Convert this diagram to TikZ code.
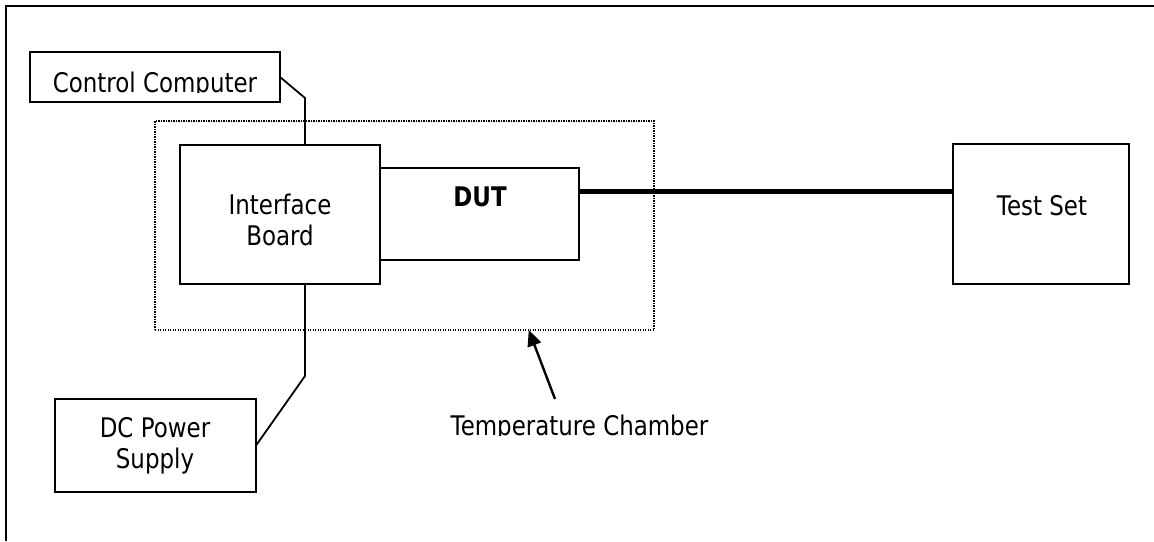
\documentclass[tikz,border=0pt]{standalone}
\usepackage{fontspec}
\setmainfont{DejaVu Sans}[FakeStretch=0.85]
\usetikzlibrary{arrows.meta,calc}
\begin{document}
\begin{tikzpicture}[x=1pt,y=-1pt,
  box/.style={draw, line width=1.8pt, inner sep=0pt, outer sep=0pt},
  txt/.style={font=\fontsize{27}{31}\selectfont, align=center, inner sep=0pt, outer sep=0pt},
  wire/.style={line width=1.8pt},
  thickwire/.style={line width=5pt},
  chamberbox/.style={draw, line width=1.4pt, dash pattern=on 1.2pt off 1.3pt, inner sep=0pt, outer sep=0pt},
  pointer/.style={line width=2.4pt, -{Triangle[length=16pt,width=14pt]}}]
\useasboundingbox (0,0) rectangle (1154,541);
% outer frame (only top and left visible)
\draw[line width=2.6pt] (1154,6) -- (6,6) -- (6,541);
% temperature chamber
\node[chamberbox, minimum width=499pt, minimum height=209pt] (chamber) at (404.5,225.5) {};
% boxes
\node[box, minimum width=250pt, minimum height=50pt] (cc) at (155,77) {};
\node[box, minimum width=200pt, minimum height=139pt] (ib) at (280,214.5) {};
\node[box, minimum width=199pt, minimum height=92pt] (dut) at (479.5,214) {};
\node[box, minimum width=176pt, minimum height=140pt] (ts) at (1041,214) {};
\node[box, minimum width=201pt, minimum height=93pt] (dc) at (155.5,445.5) {};
% texts
\begin{scope}
  \clip (30,52) rectangle (280,92.5);
  \node[txt, anchor=base] (cctext) at (155,92) {Control Computer};
\end{scope}
\node[txt] (ibtext) at (280,220.3) {Interface\\Board};
\node[txt, anchor=base] (duttext) at (480,206) {\textbf{DUT}};
\node[txt, anchor=base] (tstext) at (1042,215) {Test Set};
\node[txt] (dctext) at (155,445.3) {DC Power\\Supply};
\begin{scope}
  \clip (430,400) rectangle (730,435.5);
  \node[txt, anchor=base] (tclabel) at (579.5,435) {Temperature Chamber};
\end{scope}
% connectors
\coordinate (ccbend) at (305,98);
\draw[wire] (cc.east) -- (ccbend) -- (ccbend |- ib.north);
\coordinate (dcbend) at (305,376);
\draw[wire] (dcbend |- ib.south) -- (dcbend) -- (dc.east);
\coordinate (dutport) at ($(dut.north east)!0.25!(dut.south east)$);
\draw[thickwire] (dutport) -- (dutport -| ts.west);
% pointer to chamber
\coordinate (arrtail) at (555,399);
\coordinate (arrtip) at ($(chamber.south west)!0.749!(chamber.south east)$);
\draw[pointer] (arrtail) -- (arrtip);
\end{tikzpicture}
\end{document}
